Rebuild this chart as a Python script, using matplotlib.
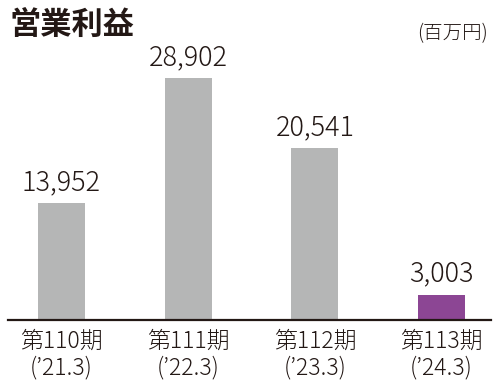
import matplotlib
matplotlib.use('Agg')
import matplotlib.pyplot as plt

plt.rcParams['font.family'] = ['Noto Sans CJK JP', 'DejaVu Sans']

# 데이터
periods = ['第110期', '第111期', '第112期', '第113期']
years = ['(’21.3)', '(’22.3)', '(’23.3)', '(’24.3)']
values = [13952, 28902, 20541, 3003]
labels = ['13,952', '28,902', '20,541', '3,003']

gray = '#b5b6b6'
purple = '#8c4694'
dark = '#231815'
colors = [gray, gray, gray, purple]

fig = plt.figure(figsize=(5, 3.8), dpi=100)
ax = fig.add_axes([0.016, 0.158, 0.966, 0.684])

x = list(range(len(values)))
ax.bar(x, values, width=0.37, color=colors, zorder=2)

for xi, v, lab in zip(x, values, labels):
    ax.annotate(lab, (xi, v), xytext=(0, 9.5), textcoords='offset points',
                ha='center', va='baseline', fontsize=19.5, color=dark,
                fontweight='light')

ax.set_xlim(-0.422, 3.39)
ax.set_ylim(0, 31050)
ax.set_xticks(x)
ax.set_xticklabels([p + '\n' + y for p, y in zip(periods, years)],
                   fontsize=16.5, color=dark, linespacing=1.1,
                   fontweight='light')
ax.tick_params(axis='x', length=0, pad=6)
ax.set_yticks([])

for s in ['top', 'left', 'right']:
    ax.spines[s].set_visible(False)
ax.spines['bottom'].set_color(dark)
ax.spines['bottom'].set_linewidth(1.6)

# 타이틀 및 단위
fig.text(0.018, 0.935, '営業利益', fontsize=22.5, fontweight='bold',
         color=dark, ha='left', va='center')
fig.text(0.976, 0.912, '(百万円)', fontsize=14, color=dark,
         ha='right', va='center', fontweight='light')

fig.savefig('out.png', dpi=100)
